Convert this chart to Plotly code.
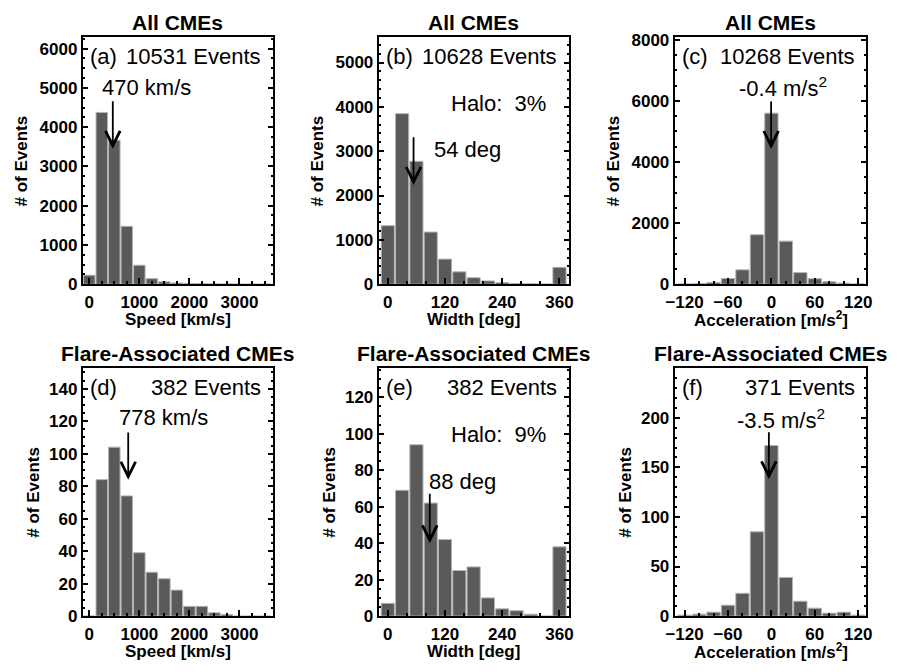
import plotly.graph_objects as go

# ---------------- data ----------------
speed_bins = [0, 250, 500, 750, 1000, 1250, 1500, 1750, 2000, 2250, 2500, 2750, 3000, 3250, 3500]
width_bins = [0, 30, 60, 90, 120, 150, 180, 210, 240, 270, 300, 330, 360]
accel_bins = [-120, -100, -80, -60, -40, -20, 0, 20, 40, 60, 80, 100, 120]

speed_all = [230, 4375, 3667, 1475, 483, 142, 60, 30, 20, 15, 10, 8, 6, 5, 5]
width_all = [1320, 3846, 2772, 1176, 566, 279, 147, 74, 37, 15, 10, 5, 381]
accel_all = [10, 20, 60, 190, 470, 1620, 5600, 1410, 380, 180, 80, 35, 10]

speed_flare = [0, 84, 104, 74, 39, 27, 23, 16, 6, 6, 2, 1, 0, 0, 0]
width_flare = [7, 69, 94, 62, 42, 25, 27, 10, 4, 3, 1, 0, 38]
accel_flare = [1, 2, 4, 11, 23, 85, 172, 39, 15, 8, 3, 4, 1]

panel_letters = ["(a)", "(b)", "(c)", "(d)", "(e)", "(f)"]
event_labels = ["10531 Events", "10628 Events", "10268 Events",
                "382 Events", "382 Events", "371 Events"]
medians = [470, 54, -0.4, 778, 88, -3.5]
median_labels = ["470 km/s", "54 deg", "-0.4 m/s<sup>2</sup>",
                 "778 km/s", "88 deg", "-3.5 m/s<sup>2</sup>"]
arrow_tail = [4700, 3350, 6030, 114, 68, 187]
arrow_tip = [3450, 2240, 4430, 84, 40, 138]
halo_labels = [None, "Halo:  3%", None, None, "Halo:  9%", None]
row_titles = ["All CMEs", "Flare-Associated CMEs"]
x_titles = ["Speed [km/s]", "Width [deg]", "Acceleration [m/s<sup>2</sup>]"]
y_title = "# of Events"

x_tickvals = [[0, 1000, 2000, 3000], [0, 120, 240, 360], [-120, -60, 0, 60, 120]]
y_tickvals = [[0, 1000, 2000, 3000, 4000, 5000, 6000],
              [0, 1000, 2000, 3000, 4000, 5000],
              [0, 2000, 4000, 6000, 8000],
              [0, 20, 40, 60, 80, 100, 120, 140],
              [0, 20, 40, 60, 80, 100, 120],
              [0, 50, 100, 150, 200]]

# ---------------- style / layout ----------------
W, H = 901, 672
FONT = "Liberation Sans, Arial, sans-serif"
BAR_FILL = "#5a5a5a"
BAR_EDGE = "#b4b4b4"

col_px = [(75, 268), (376, 569), (677, 872)]
row_px = [(32, 285), (371, 625)]
x_ranges = [[-130, 3660], [-19, 379], [-133.6, 131.4]]
x_minor = [250, 40, 20]
y_ranges = [[0, 6290], [0, 5570], [0, 8085], [0, 152.6], [0, 136], [0, 250]]
y_minor = [250, 200, 500, 5, 5, 10]
median_pos = [(65, 51), (90, 115), (110, 51), (82, 51), (85, 116), (108, 52)]
halo_pos = (122, 68)
ytitle_off = [62, 50]

series = [(speed_bins, speed_all), (width_bins, width_all), (accel_bins, accel_all),
          (speed_bins, speed_flare), (width_bins, width_flare), (accel_bins, accel_flare)]


def px_x(px):
    return px / W


def px_y(py):
    return 1 - py / H


fig = go.Figure()
annotations = []

for i in range(6):
    r, c = divmod(i, 3)
    x0, x1 = col_px[c]
    y0, y1 = row_px[r]
    sfx = "" if i == 0 else str(i + 1)
    xs, ys = series[i]
    fig.add_trace(go.Bar(
        x=xs, y=ys, xaxis="x" + sfx, yaxis="y" + sfx,
        marker=dict(color=BAR_FILL, line=dict(color=BAR_EDGE, width=1)),
        showlegend=False, hoverinfo="x+y"))

    fig.layout["xaxis" + sfx] = dict(
        domain=[px_x(x0), px_x(x1)], range=x_ranges[c], anchor="y" + sfx,
        tickvals=x_tickvals[c], ticks="inside", ticklen=6, tickwidth=2,
        tickcolor="black", showline=True, linecolor="black", linewidth=2,
        mirror=True, showgrid=False, zeroline=False, ticklabelstandoff=1,
        tickfont=dict(family=FONT, size=17, color="black", weight="bold"),
        minor=dict(dtick=x_minor[c], ticks="inside", ticklen=3, tickwidth=2,
                   tickcolor="black", showgrid=False),
    )
    fig.layout["yaxis" + sfx] = dict(
        domain=[px_y(y1), px_y(y0)], range=y_ranges[i], anchor="x" + sfx,
        tickvals=y_tickvals[i], ticks="inside", ticklen=5, tickwidth=2,
        tickcolor="black", showline=True, linecolor="black", linewidth=2,
        mirror="ticks", showgrid=False, zeroline=False,
        tickfont=dict(family=FONT, size=17, color="black", weight="bold"),
        minor=dict(dtick=y_minor[i], ticks="inside", ticklen=2, tickwidth=1.5,
                   tickcolor="black", showgrid=False),
    )

    # arrow marking the median
    annotations.append(dict(
        x=medians[i], y=arrow_tip[i], ax=medians[i], ay=arrow_tail[i],
        xref="x" + sfx, yref="y" + sfx, axref="x" + sfx, ayref="y" + sfx,
        text="", showarrow=True, arrowhead=5, arrowsize=1.6, arrowwidth=1.8,
        arrowcolor="black", standoff=0))

    txt_font = dict(family=FONT, size=22, color="black")
    annotations.append(dict(
        x=px_x(x0 + 5), y=px_y(y0 + 20), xref="paper", yref="paper",
        text=panel_letters[i], showarrow=False, xanchor="left", yanchor="middle",
        font=txt_font))
    annotations.append(dict(
        x=px_x(x1 - 10), y=px_y(y0 + 20), xref="paper", yref="paper",
        text=event_labels[i], showarrow=False, xanchor="right", yanchor="middle",
        font=txt_font))
    mx, my = median_pos[i]
    annotations.append(dict(
        x=px_x(x0 + mx), y=px_y(y0 + my), xref="paper", yref="paper",
        text=median_labels[i], showarrow=False, xanchor="center", yanchor="middle",
        font=txt_font))
    if halo_labels[i]:
        hx, hy = halo_pos
        annotations.append(dict(
            x=px_x(x0 + hx), y=px_y(y0 + hy), xref="paper", yref="paper",
            text=halo_labels[i], showarrow=False, xanchor="center", yanchor="middle",
            font=txt_font))

    # titles
    lab_font = dict(family=FONT, size=17, color="black", weight="bold")
    annotations.append(dict(
        x=px_x((x0 + x1) / 2), y=px_y(y0 - 15), xref="paper", yref="paper",
        text=row_titles[r], showarrow=False, xanchor="center", yanchor="middle",
        font=dict(family=FONT, size=21, color="black", weight="bold")))
    annotations.append(dict(
        x=px_x((x0 + x1) / 2), y=px_y(y1 + 36), xref="paper", yref="paper",
        text=x_titles[c], showarrow=False, xanchor="center", yanchor="middle",
        font=lab_font))
    annotations.append(dict(
        x=px_x(x0 - ytitle_off[r]), y=px_y((y0 + y1) / 2), xref="paper", yref="paper",
        text=y_title, showarrow=False, xanchor="center", yanchor="middle",
        textangle=-90, font=lab_font))

fig.update_layout(
    width=W, height=H, margin=dict(l=0, r=0, t=0, b=0),
    paper_bgcolor="white", plot_bgcolor="white",
    bargap=0.08, annotations=annotations,
    font=dict(family=FONT, color="black"),
)

fig.write_html("out.html")
